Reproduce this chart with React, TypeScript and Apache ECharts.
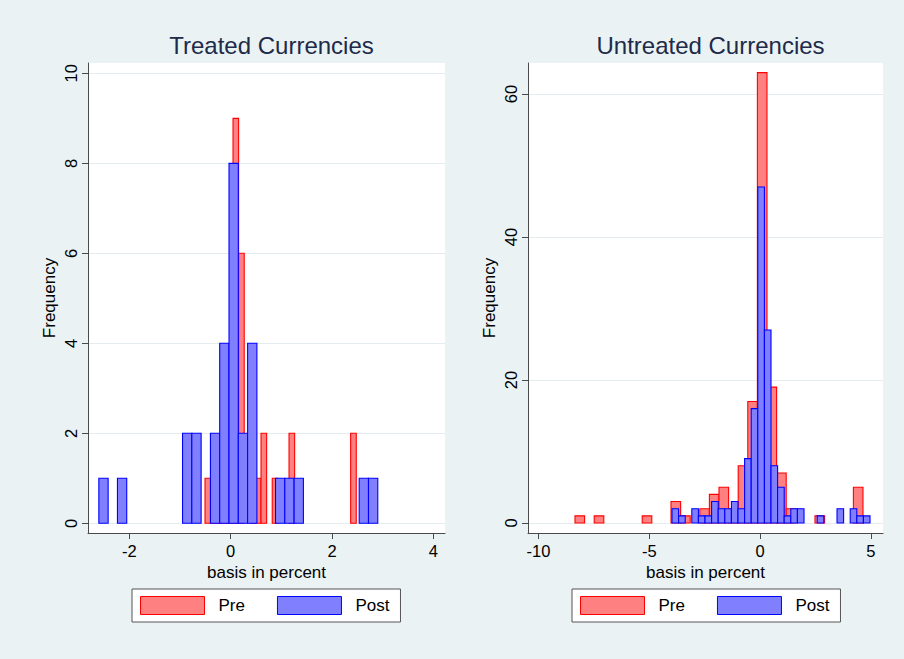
import React, { useEffect, useRef } from "react";
import * as echarts from "echarts";

// ---- Data (histogram bins: start, bin width, counts) ----
const treatedPreStart = -0.505;
const treatedPreWidth = 0.1105;
const treatedPreCounts = [1, 1, 1, 2, 2, 9, 6, 0, 1, 1, 2, 0, 1, 0, 0, 2, 0, 0, 0, 0, 0, 0, 0, 0, 0, 0, 2];

const treatedPostStart = -2.599;
const treatedPostWidth = 0.1834;
const treatedPostCounts = [1, 0, 1, 0, 0, 0, 0, 0, 0, 2, 2, 0, 2, 4, 8, 2, 4, 0, 0, 1, 1, 1, 0, 0, 0, 0, 0, 0, 1, 1];

const untreatedPreStart = -8.352;
const untreatedPreWidth = 0.4334;
const untreatedPreCounts = [1, 0, 1, 0, 0, 0, 0, 1, 0, 0, 3, 1, 0, 2, 4, 5, 2, 8, 17, 63, 19, 7, 2, 0, 0, 1, 0, 0, 0, 5];

const untreatedPostStart = -3.973;
const untreatedPostWidth = 0.298;
const untreatedPostCounts = [2, 1, 0, 2, 1, 1, 3, 2, 2, 3, 2, 9, 16, 47, 27, 8, 5, 1, 2, 2, 0, 0, 1, 0, 0, 2, 0, 2, 1, 1];

const titles = ["Treated Currencies", "Untreated Currencies"];
const seriesNames = ["Pre", "Post"];
const leftXTicks = [-2, 0, 2, 4];
const leftYTicks = [0, 2, 4, 6, 8, 10];
const rightXTicks = [-10, -5, 0, 5];
const rightYTicks = [0, 20, 40, 60];
const xTitle = "basis in percent";
const yTitle = "Frequency";

// ---- helpers ----
function bins(start: number, width: number, counts: number[]) {
  const out: number[][] = [];
  counts.forEach((c, i) => {
    if (c > 0) out.push([start + i * width, start + (i + 1) * width, c]);
  });
  return out;
}

const FONT = "'Liberation Sans', Arial, Helvetica, sans-serif";
const PRE_FILL = "#ff8080";
const PRE_LINE = "#ff0000";
const POST_FILL = "#8080ff";
const POST_LINE = "#0000ff";
const AXIS = "#4a4a4a";
const GRIDLINE = "#e4ecef";

function histSeries(name: string, idx: number, data: number[][], fill: string, stroke: string) {
  return {
    type: "custom",
    name,
    xAxisIndex: idx,
    yAxisIndex: idx,
    encode: { x: [0, 1], y: 2 },
    itemStyle: { color: fill, borderColor: stroke, borderWidth: 1 },
    data,
    renderItem: (params: any, api: any) => {
      const p0 = api.coord([api.value(0), api.value(2)]);
      const p1 = api.coord([api.value(1), 0]);
      return {
        type: "rect",
        shape: { x: p0[0], y: p0[1], width: p1[0] - p0[0], height: p1[1] - p0[1] },
        style: { fill, stroke, lineWidth: 1.1 },
      };
    },
  };
}

function xAxis(idx: number, min: number, max: number, ticks: number[]) {
  return {
    type: "value",
    gridIndex: idx,
    min,
    max,
    axisLine: { show: true, onZero: false, lineStyle: { color: AXIS, width: 1 } },
    axisTick: { show: true, length: 6, customValues: ticks, lineStyle: { color: AXIS } },
    axisLabel: { customValues: ticks, fontSize: 16.5, color: "#000", margin: 9, fontFamily: FONT },
    splitLine: { show: false },
    name: xTitle,
    nameLocation: "middle",
    nameGap: 31,
    nameTextStyle: { fontSize: 17, color: "#000", fontFamily: FONT },
  };
}

function yAxis(idx: number, min: number, max: number, ticks: number[]) {
  return {
    type: "value",
    gridIndex: idx,
    min,
    max,
    axisLine: { show: true, onZero: false, lineStyle: { color: AXIS, width: 1 } },
    axisTick: { show: true, length: 6, customValues: ticks, lineStyle: { color: AXIS } },
    axisLabel: { customValues: ticks, fontSize: 16.5, color: "#000", margin: 9, rotate: 90, fontFamily: FONT },
    splitLine: { show: true, lineStyle: { color: GRIDLINE, width: 1 } },
    name: yTitle,
    nameLocation: "middle",
    nameRotate: 90,
    nameGap: 30,
    nameTextStyle: { fontSize: 17, color: "#000", fontFamily: FONT },
  };
}

function legend(left: number) {
  return {
    left,
    top: 589,
    orient: "horizontal",
    itemWidth: 64,
    itemHeight: 18,
    itemGap: 32,
    padding: [7, 11, 7, 8],
    backgroundColor: "#ffffff",
    borderColor: "#555",
    borderWidth: 1,
    borderRadius: 0,
    selectedMode: false,
    textStyle: { fontSize: 17, color: "#000", fontFamily: FONT, padding: [0, 0, 0, 9] },
    data: [
      { name: seriesNames[0], icon: "rect", itemStyle: { color: PRE_FILL, borderColor: PRE_LINE, borderWidth: 1 } },
      { name: seriesNames[1], icon: "rect", itemStyle: { color: POST_FILL, borderColor: POST_LINE, borderWidth: 1 } },
    ],
  };
}

export default function App() {
  const ref = useRef<HTMLDivElement>(null);
  useEffect(() => {
    document.body.style.margin = "0";
    if (!ref.current) return;
    const chart = echarts.init(ref.current, undefined, { renderer: "svg" });
    chart.setOption({
      animation: false,
      backgroundColor: "#eaf2f3",
      textStyle: { fontFamily: FONT },
      title: [
        { text: titles[0], left: 266.5, top: 28, textAlign: "center", textStyle: { fontSize: 24, fontWeight: "normal", color: "#1e2a4a", fontFamily: FONT } },
        { text: titles[1], left: 705.5, top: 28, textAlign: "center", textStyle: { fontSize: 24, fontWeight: "normal", color: "#1e2a4a", fontFamily: FONT } },
      ],
      legend: [legend(132), legend(572)],
      grid: [
        { left: 88, top: 63, width: 357, height: 470, show: true, backgroundColor: "#ffffff", borderWidth: 0, containLabel: false },
        { left: 528, top: 63, width: 355, height: 470, show: true, backgroundColor: "#ffffff", borderWidth: 0, containLabel: false },
      ],
      xAxis: [xAxis(0, -2.813, 4.229, leftXTicks), xAxis(1, -10.474, 5.553, rightXTicks)],
      yAxis: [yAxis(0, -0.216, 10.23, leftYTicks), yAxis(1, -1.4, 64.34, rightYTicks)],
      series: [
        histSeries(seriesNames[0], 0, bins(treatedPreStart, treatedPreWidth, treatedPreCounts), PRE_FILL, PRE_LINE),
        histSeries(seriesNames[1], 0, bins(treatedPostStart, treatedPostWidth, treatedPostCounts), POST_FILL, POST_LINE),
        histSeries(seriesNames[0], 1, bins(untreatedPreStart, untreatedPreWidth, untreatedPreCounts), PRE_FILL, PRE_LINE),
        histSeries(seriesNames[1], 1, bins(untreatedPostStart, untreatedPostWidth, untreatedPostCounts), POST_FILL, POST_LINE),
      ],
    });
    return () => chart.dispose();
  }, []);
  return <div ref={ref} style={{ width: 904, height: 659, position: "absolute", left: 0, top: 0 }} />;
}
